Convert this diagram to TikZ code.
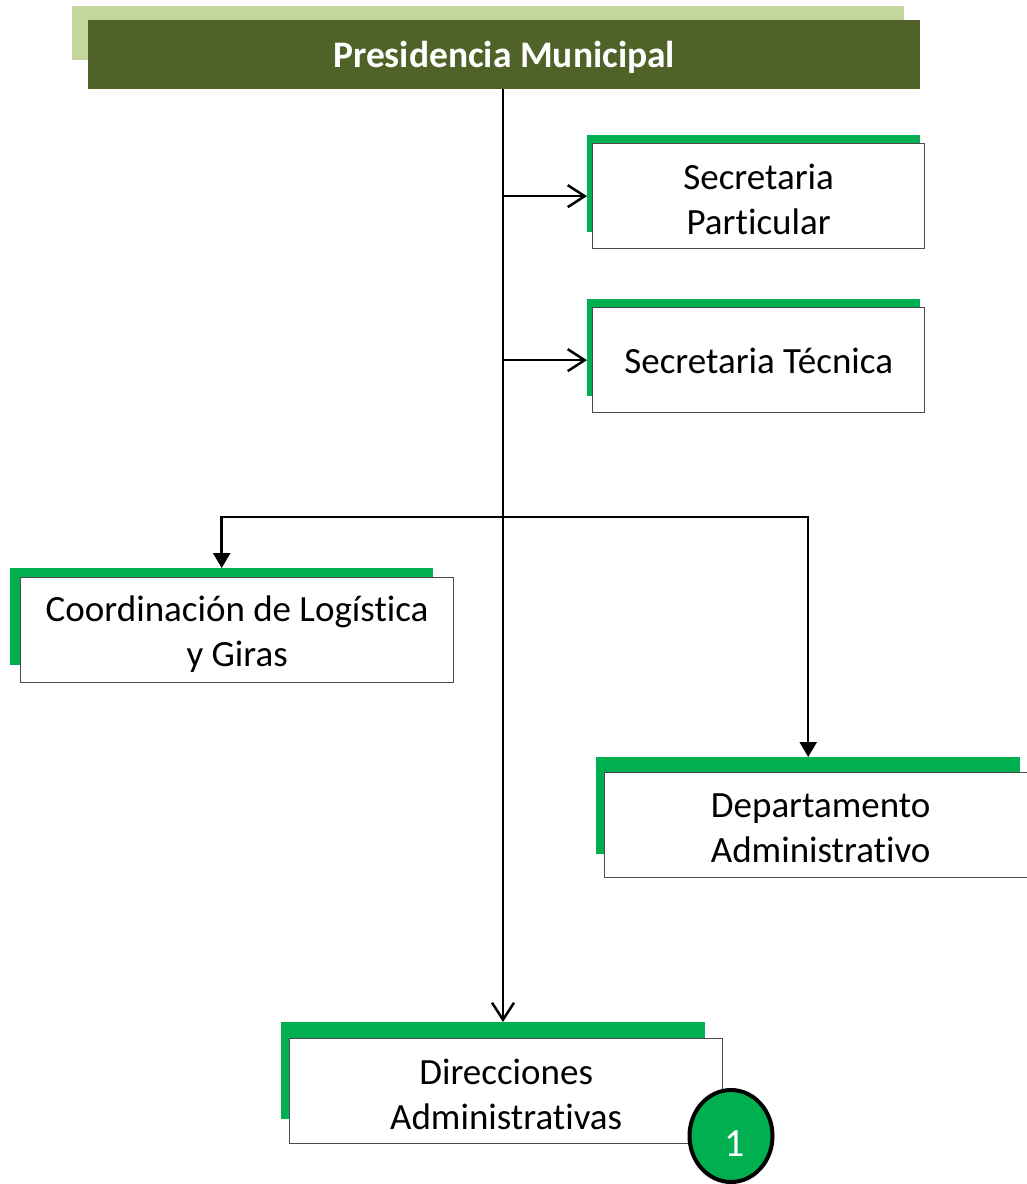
\documentclass[tikz,border=0pt]{standalone}
\usepackage{fontspec}
\setmainfont{Carlito}[Ligatures=NoCommon]
\usetikzlibrary{arrows.meta,shapes.geometric}
\definecolor{lightolive}{HTML}{C3D69B}
\definecolor{darkolive}{HTML}{4F6228}
\definecolor{brightgreen}{HTML}{00B050}
\tikzset{
  gback/.style={fill=brightgreen, draw=none, minimum width=#1, minimum height=97, anchor=north west, inner sep=0},
  wbox/.style={fill=white, draw=black!70, line width=1.3, minimum height=105, anchor=north west, inner sep=0, minimum width=#1},
  wtext/.style={align=center, inner sep=0, yshift=-3.5pt, font=\fontsize{37}{45}\selectfont},
  conn/.style={draw=black, line width=2.5},
  openarr/.style={conn, -{Straight Barb[length=17, width=22, line width=2.5]}},
  fillarr/.style={conn, -{Triangle[length=15, width=17]}}
}
\begin{document}
\begin{tikzpicture}[x=1pt,y=-1pt]
\useasboundingbox (0,0) rectangle (1026,1184);
% title
\node[fill=lightolive, minimum width=832, minimum height=54, anchor=north west, inner sep=0] (presbg) at (72,6) {};
\node[fill=darkolive, minimum width=832, minimum height=69, anchor=north west, inner sep=0] (pres) at (88,20) {};
\node[text=white, inner sep=0, yshift=-3pt, font=\fontsize{37.5}{42}\selectfont\bfseries] (prest) at (pres.center) {Presidencia Municipal};
% boxes
\node[gback=333] (spg) at (587,135) {};
\node[wbox=332] (sp) at (592,143) {};
\node[wtext] (spt) at (sp.center) {Secretaria\\Particular};
\node[gback=333] (stg) at (587,299) {};
\node[wbox=332] (st) at (592,307) {};
\node[wtext, yshift=3pt] (stt) at (st.center) {Secretaria Técnica};
\node[gback=423] (cag) at (10,568) {};
\node[wbox=433] (ca) at (20,577) {};
\node[wtext] (cat) at (ca.center) {Coordinación de Logística\\y Giras};
\node[gback=424] (dag) at (596,757) {};
\node[wbox=432] (da) at (604,772) {};
\node[wtext] (dat) at (da.center) {Departamento\\Administrativo};
\node[gback=424] (drg) at (281,1022) {};
\node[wbox=433] (dr) at (289,1038) {};
\node[wtext] (drt) at (dr.center) {Direcciones\\Administrativas};
\node[draw=black, line width=4, fill=brightgreen, ellipse, minimum width=83, minimum height=92, inner sep=0] (num) at (731,1136) {};
\node[text=white, inner sep=0, font=\fontsize{40}{44}\selectfont] (numt) at (735,1144) {1};
% connectors
\coordinate (top) at (503,89);
\coordinate (jn) at (503,517);
\draw[openarr] (top) -- (top |- drg.north);
\draw[openarr] (top |- sp.west) -- (spg.west |- sp.west);
\draw[openarr] (top |- st.west) -- (stg.west |- st.west);
\draw[fillarr] (jn) -| (cag.north);
\draw[fillarr] (jn) -| (dag.north);
\end{tikzpicture}
\end{document}
